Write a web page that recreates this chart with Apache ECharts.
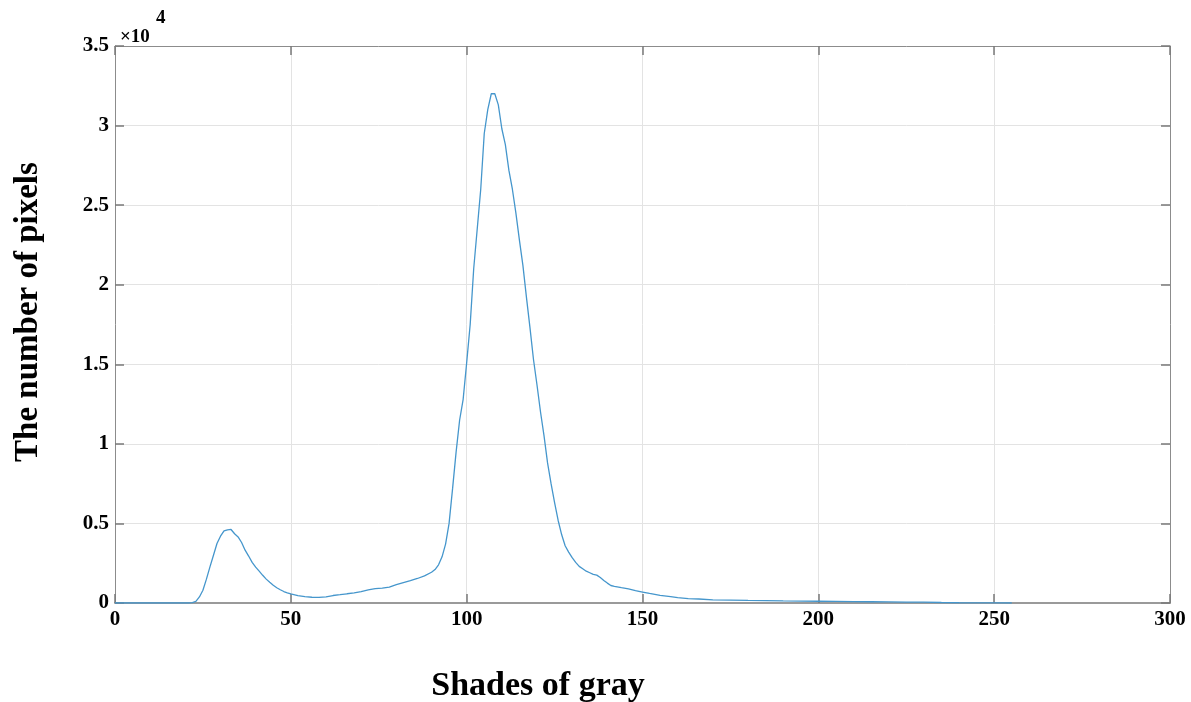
<!DOCTYPE html>
<html>
<head>
<meta charset="utf-8">
<script src="https://cdn.jsdelivr.net/npm/echarts@6/dist/echarts.min.js"></script>
<style>
  html, body { margin: 0; padding: 0; background: #fff; }
  #histChart { width: 1191px; height: 702px; }
</style>
</head>
<body>
<div id="histChart"></div>
<script>
    // gray level (x) and pixel count (y)
    const grayLevels = [0, 10, 20, 21, 22, 23, 24, 25, 26, 27, 28, 29, 30, 31, 32, 33, 34, 35, 36, 37, 38, 39,
        40, 41, 42, 43, 44, 45, 46, 47, 48, 49, 50, 52, 54, 56, 58, 60, 62, 64, 66, 68, 70, 72, 74, 76, 78,
        80, 82, 84, 86, 88, 90, 91, 92, 93, 94, 95, 96, 97, 98, 99, 100, 101, 102, 103, 104, 105, 106, 107,
        108, 109, 110, 111, 112, 113, 114, 115, 116, 117, 118, 119, 120, 121, 122, 123, 124, 125, 126, 127,
        128, 129, 130, 131, 132, 133, 134, 135, 136, 137, 138, 139, 140, 141, 142, 144, 146, 148, 150, 152,
        155, 158, 160, 163, 166, 170, 175, 180, 185, 190, 195, 200, 205, 210, 215, 220, 225, 230, 235, 240,
        245, 250, 255];
    const pixelCounts = [0, 0, 0, 0, 20, 100, 380, 800, 1500, 2270, 3000, 3740, 4200, 4530, 4600, 4620, 4350,
        4150, 3800, 3320, 2950, 2550, 2250, 2000, 1740, 1500, 1300, 1110, 960, 830, 720, 640, 570, 470, 400,
        360, 350, 390, 470, 520, 580, 630, 710, 820, 900, 940, 1000, 1150, 1280, 1400, 1540, 1700, 1930, 2100,
        2400, 2900, 3700, 5000, 7200, 9500, 11500, 12800, 15100, 17500, 21000, 23500, 26000, 29500, 31000,
        32000, 32000, 31300, 29800, 28800, 27200, 26000, 24500, 22800, 21200, 19200, 17300, 15300, 13700,
        12000, 10500, 8800, 7500, 6300, 5200, 4300, 3600, 3200, 2850, 2550, 2300, 2150, 2000, 1900, 1800,
        1750, 1600, 1420, 1250, 1100, 1050, 960, 890, 780, 690, 600, 480, 400, 340, 280, 250, 200, 180, 160,
        150, 130, 120, 110, 100, 90, 80, 70, 60, 50, 30, 15, 5, 2, 0];

    const xTicks = [0, 50, 100, 150, 200, 250, 300];
    const yTicks = [0, 0.5, 1, 1.5, 2, 2.5, 3, 3.5];

    const serif = '"Liberation Serif", "DejaVu Serif", serif';

    let histChart = echarts.init(document.getElementById('histChart'));

    const tickStyle = {show: true, inside: true, length: 9, lineStyle: {color: '#7a7a7a', width: 1.5}};

    const frameAxis = {
        axisLine: {show: true, onZero: false, lineStyle: {color: '#8c8c8c', width: 1}},
        axisTick: tickStyle,
        axisLabel: {show: false},
        splitLine: {show: false}
    };

    let option = {
        animation: false,
        grid: {left: 115, right: 21, top: 46, bottom: 99},
        xAxis: [{
            type: 'value',
            min: xTicks[0],
            max: xTicks[xTicks.length - 1],
            interval: 50,
            axisLine: {show: true, onZero: false, lineStyle: {color: '#9a9a9a', width: 2}},
            axisTick: tickStyle,
            axisLabel: {
                color: '#000', fontFamily: serif, fontWeight: 'bold', fontSize: 21, margin: 6
            },
            splitLine: {show: true, lineStyle: {color: '#e3e3e3', width: 1}}
        }, Object.assign({
            type: 'value', position: 'top',
            min: xTicks[0], max: xTicks[xTicks.length - 1], interval: 50
        }, frameAxis)],
        yAxis: [{
            type: 'value',
            min: 0,
            max: yTicks[yTicks.length - 1] * 10000,
            interval: 5000,
            axisLine: {show: true, onZero: false, lineStyle: {color: '#8c8c8c', width: 1}},
            axisTick: tickStyle,
            axisLabel: {
                color: '#000', fontFamily: serif, fontWeight: 'bold', fontSize: 21, margin: 6,
                formatter: v => String(v / 10000)
            },
            splitLine: {show: true, lineStyle: {color: '#e3e3e3', width: 1}}
        }, Object.assign({
            type: 'value', position: 'right',
            min: 0, max: yTicks[yTicks.length - 1] * 10000, interval: 5000
        }, frameAxis)],
        series: [{
            type: 'line',
            xAxisIndex: 0,
            yAxisIndex: 0,
            data: grayLevels.map((g, i) => [g, pixelCounts[i]]),
            showSymbol: false,
            smooth: false,
            lineStyle: {color: '#4596cc', width: 1.3}
        }],
        graphic: [{
            type: 'text',
            x: 120,
            y: 37,
            style: {
                text: '×10',
                fontFamily: serif, fontSize: 19, fontWeight: 'bold', fill: '#000',
                align: 'left', verticalAlign: 'middle'
            }
        }, {
            type: 'text',
            x: 156,
            y: 18,
            style: {
                text: '4',
                fontFamily: serif, fontSize: 19, fontWeight: 'bold', fill: '#000',
                align: 'left', verticalAlign: 'middle'
            }
        }, {
            type: 'text',
            x: 538,
            y: 686,
            style: {
                text: 'Shades of gray',
                fontFamily: serif, fontSize: 34, fontWeight: 'bold', fill: '#000',
                align: 'center', verticalAlign: 'middle'
            }
        }, {
            type: 'text',
            x: 28,
            y: 312,
            rotation: Math.PI / 2,
            style: {
                text: 'The number of pixels',
                fontFamily: serif, fontSize: 33, fontWeight: 'bold', fill: '#000',
                align: 'center', verticalAlign: 'middle'
            }
        }]
    };
    histChart.setOption(option);
</script>
</body>
</html>
